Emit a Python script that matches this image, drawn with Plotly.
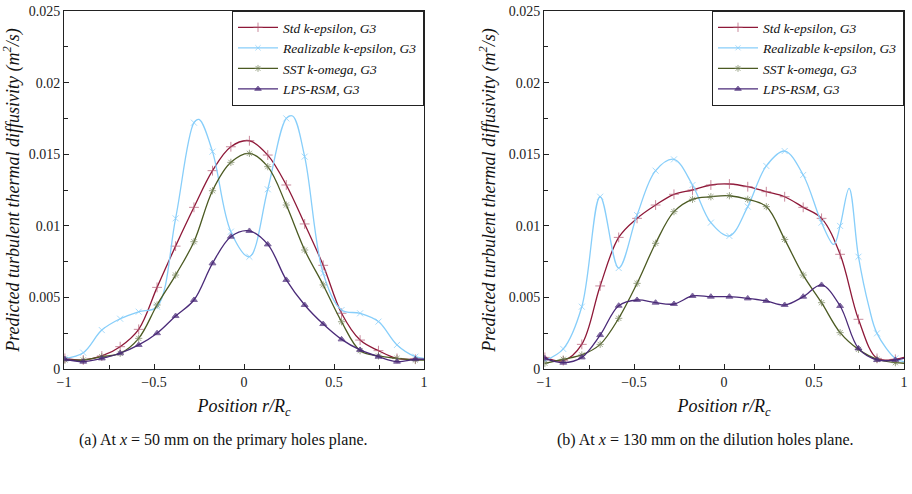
import plotly.graph_objects as go

# ---------------- data ----------------
# marker positions (r/Rc) shared by all curves
MARK_X = [-0.995, -0.893, -0.790, -0.688, -0.585, -0.483, -0.380, -0.278, -0.175, -0.073,
          0.030, 0.132, 0.235, 0.337, 0.440, 0.542, 0.645, 0.747, 0.850, 0.952]
END_X = 1.0

SERIES = ["Std k-epsilon, G3", "Realizable k-epsilon, G3", "SST k-omega, G3", "LPS-RSM, G3"]

# (a) x = 50 mm, primary holes plane
STD_A = [0.00074, 0.00063, 0.00091, 0.00156, 0.00277, 0.00570, 0.00858, 0.01129, 0.01385, 0.01552,
         0.01594, 0.01494, 0.01285, 0.01013, 0.00724, 0.00389, 0.00202, 0.00128, 0.00074, 0.00068]
REAL_A = [0.00074, 0.00114, 0.00272, 0.00351, 0.00400, 0.00435, 0.01052, 0.01720, 0.01518, 0.00959,
          0.00784, 0.01255, 0.01750, 0.01483, 0.00668, 0.00412, 0.00389, 0.00331, 0.00168, 0.00086]
SST_A = [0.00063, 0.00063, 0.00086, 0.00109, 0.00214, 0.00447, 0.00656, 0.00889, 0.01245, 0.01443,
         0.01506, 0.01413, 0.01145, 0.00831, 0.00587, 0.00330, 0.00128, 0.00091, 0.00074, 0.00063]
LPS_A = [0.00068, 0.00051, 0.00074, 0.00110, 0.00168, 0.00250, 0.00370, 0.00482, 0.00738, 0.00924,
         0.00964, 0.00870, 0.00622, 0.00447, 0.00314, 0.00207, 0.00133, 0.00086, 0.00051, 0.00068]
END_A = [0.00068, 0.00074, 0.00063, 0.00068]
# extra (unmarked) curve points
REAL_A_EXTRA_X = [-0.25, 0.27]
REAL_A_EXTRA_Y = [0.01743, 0.01767]

# (b) x = 130 mm, dilution holes plane
STD_B = [0.00081, 0.00058, 0.00172, 0.00580, 0.00919, 0.01052, 0.01145, 0.01220, 0.01250, 0.01285,
         0.01292, 0.01273, 0.01238, 0.01203, 0.01129, 0.01052, 0.00801, 0.00347, 0.00074, 0.00068]
REAL_B = [0.00058, 0.00140, 0.00435, 0.01203, 0.00705, 0.01075, 0.01385, 0.01464, 0.01285, 0.01022,
          0.00929, 0.01134, 0.01418, 0.01522, 0.01355, 0.01022, 0.00999, 0.00784, 0.00249, 0.00074]
SST_B = [0.00040, 0.00068, 0.00098, 0.00172, 0.00354, 0.00598, 0.00878, 0.01099, 0.01185, 0.01203,
         0.01210, 0.01185, 0.01134, 0.00905, 0.00656, 0.00463, 0.00254, 0.00137, 0.00068, 0.00044]
LPS_B = [0.00074, 0.00044, 0.00081, 0.00237, 0.00442, 0.00482, 0.00463, 0.00454, 0.00510, 0.00505,
         0.00505, 0.00493, 0.00475, 0.00447, 0.00505, 0.00587, 0.00440, 0.00144, 0.00063, 0.00063]
END_B = [0.00081, 0.00051, 0.00040, 0.00074]
REAL_B_EXTRA_X = [0.61, 0.695, 0.805]
REAL_B_EXTRA_Y = [0.0087, 0.01262, 0.00435]

X_TICKS = [-1, -0.5, 0, 0.5, 1]
Y_TICKS = [0, 0.005, 0.01, 0.015, 0.02, 0.025]
CAPTIONS = ["(a) At <i>x</i> = 50 mm on the primary holes plane.",
            "(b) At <i>x</i> = 130 mm on the dilution holes plane."]

# ---------------- style ----------------
W, H = 912, 494
FONT = "Liberation Serif, 'Times New Roman', serif"
COLORS = ["#8e1838", "#87cefa", "#4b5a22", "#4a2a78"]
MCOLORS = ["#b45a74", "#87cefa", "#75835a", "#4a2a78"]
SYMBOLS = ["cross-thin", "x-thin", "asterisk", "triangle-up"]
MSIZE = [7, 6, 6, 6]


def pxx(x):
    return x / W


def pyy(y):
    return 1 - y / H


def build(marks, end_y, ex_x=(), ex_y=()):
    pts = [(x, y, True) for x, y in zip(MARK_X, marks)]
    pts += [(x, y, False) for x, y in zip(ex_x, ex_y)]
    pts.append((END_X, end_y, False))
    pts.sort(key=lambda p: p[0])
    return [p[0] for p in pts], [p[1] for p in pts], [p[2] for p in pts]


panels = [
    ([STD_A, REAL_A, SST_A, LPS_A], END_A, {1: (REAL_A_EXTRA_X, REAL_A_EXTRA_Y)}, "x", "y", "legend"),
    ([STD_B, REAL_B, SST_B, LPS_B], END_B, {1: (REAL_B_EXTRA_X, REAL_B_EXTRA_Y)}, "x2", "y2", "legend2"),
]

fig = go.Figure()
for vals, ends, extras, xa, ya, lg in panels:
    for i, name in enumerate(SERIES):
        ex = extras.get(i, ((), ()))
        xs, ys, ism = build(vals[i], ends[i], ex[0], ex[1])
        sizes = [MSIZE[i] if m else 0 for m in ism]
        fig.add_trace(go.Scatter(
            x=xs, y=ys, name=name, mode="lines+markers",
            line=dict(color=COLORS[i], width=1.3, shape="spline", smoothing=1.0),
            marker=dict(symbol=SYMBOLS[i], size=sizes, color=MCOLORS[i],
                        line=dict(color=MCOLORS[i], width=1)),
            xaxis=xa, yaxis=ya, legend=lg,
        ))

axis_common = dict(showgrid=False, zeroline=False, showline=True, mirror=True,
                   linecolor="#222", linewidth=1, ticks="inside", ticklen=5,
                   tickcolor="#222", automargin=False,
                   tickfont=dict(family=FONT, size=14, color="#222"))

xdoms = [[pxx(64), pxx(424)], [pxx(544), pxx(904)]]
ydom = [pyy(369), pyy(11)]
lay = {}
for k, sfx in enumerate(["", "2"]):
    lay["xaxis" + sfx] = dict(axis_common, domain=xdoms[k], range=[-1, 1],
                              tickvals=X_TICKS, ticktext=[("\u2212" if v < 0 else "") + ("%g" % abs(v)) for v in X_TICKS],
                              minor=dict(dtick=0.25, tick0=-1, ticks="inside", ticklen=4, tickcolor="#222"),
                              anchor="y" + sfx,
                              title=dict(text="<i>Position r/R<sub>c</sub></i>", standoff=10,
                                         font=dict(family=FONT, size=18, color="#111")))
    lay["yaxis" + sfx] = dict(axis_common, domain=ydom, range=[0, 0.025],
                              tickvals=Y_TICKS, ticktext=["%g" % v for v in Y_TICKS],
                              minor=dict(dtick=0.0025, tick0=0, ticks="inside", ticklen=4, tickcolor="#222"),
                              anchor="x" + sfx,
                              title=dict(text="<i>Predicted turbulent thermal diffusivity (m<sup>2</sup>/s)</i>",
                                         standoff=8, font=dict(family=FONT, size=18, color="#111")))

leg_common = dict(xanchor="right", yanchor="top", y=pyy(11),
                  bordercolor="#222", borderwidth=1, bgcolor="white",
                  font=dict(family=FONT, size=13.5, color="#111", style="italic"),
                  itemsizing="trace", itemwidth=40, tracegroupgap=0)

fig.update_layout(
    width=W, height=H, margin=dict(l=0, r=0, t=0, b=0, autoexpand=False),
    paper_bgcolor="white", plot_bgcolor="white",
    font=dict(family=FONT, color="#222"),
    showlegend=True,
    legend=dict(leg_common, x=pxx(424)),
    legend2=dict(leg_common, x=pxx(904)),
    annotations=[
        dict(text=CAPTIONS[0], x=pxx(223), y=pyy(440), xref="paper", yref="paper",
             xanchor="center", yanchor="middle",
             showarrow=False, font=dict(family=FONT, size=16, color="#111")),
        dict(text=CAPTIONS[1], x=pxx(705), y=pyy(440), xref="paper", yref="paper",
             xanchor="center", yanchor="middle",
             showarrow=False, font=dict(family=FONT, size=16, color="#111")),
    ],
    **lay,
)

fig.write_html("out.html")
